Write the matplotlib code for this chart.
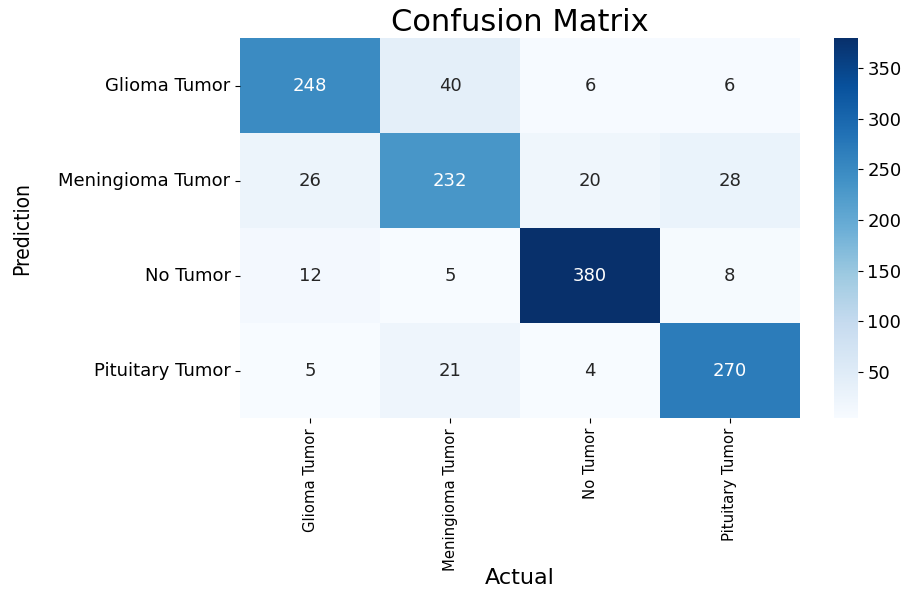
import matplotlib
matplotlib.use("Agg")
import matplotlib.pyplot as plt
import numpy as np
import seaborn as sns

classes = ["Glioma Tumor", "Meningioma Tumor", "No Tumor", "Pituitary Tumor"]
row_glioma = [248, 40, 6, 6]
row_meningioma = [26, 232, 20, 28]
row_no = [12, 5, 380, 8]
row_pituitary = [5, 21, 4, 270]
cbar_ticks = [50, 100, 150, 200, 250, 300, 350]

cm = np.array([row_glioma, row_meningioma, row_no, row_pituitary])

fig = plt.figure(figsize=(9.10, 5.94), dpi=100)
ax = fig.add_axes([0.264, 0.296, 0.615, 0.640])
cax = fig.add_axes([0.9165, 0.296, 0.026, 0.640])

sns.heatmap(cm, annot=True, fmt="d", cmap="Blues", ax=ax, cbar_ax=cax,
            xticklabels=classes, yticklabels=classes,
            annot_kws={"fontsize": 13})

ax.set_title("Confusion Matrix", fontsize=22, pad=5)
ax.set_xlabel("Actual", fontsize=16)
ax.xaxis.set_label_coords(0.5, -0.395)
ax.set_ylabel("Prediction", fontsize=15, family="DejaVu Sans", stretch="condensed")
ax.yaxis.set_label_coords(-0.372, 0.5)
ax.tick_params(axis="y", labelsize=13)
ax.tick_params(axis="x", labelsize=10.7)
for lab in ax.get_xticklabels():
    lab.set_rotation(90)
for lab in ax.get_yticklabels():
    lab.set_rotation(0)

cax.set_yticks(cbar_ticks)
cax.tick_params(labelsize=13)
for spine in cax.spines.values():
    spine.set_visible(False)

fig.savefig("out.png", dpi=100)
